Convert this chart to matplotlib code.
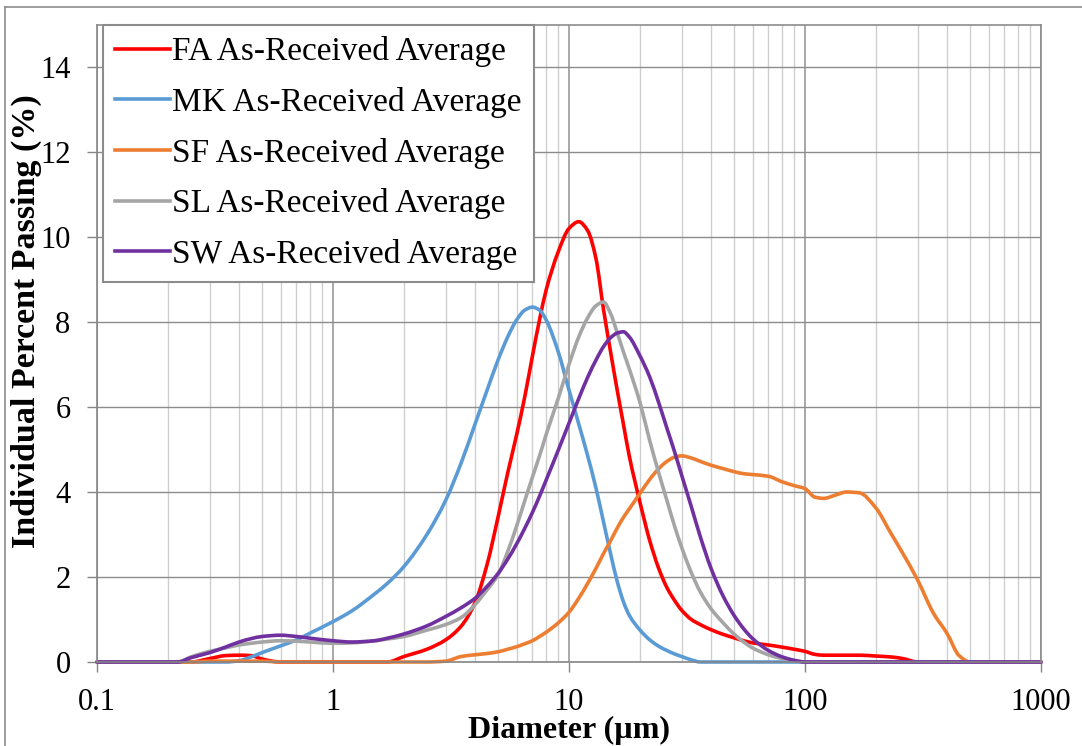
import matplotlib
matplotlib.use("Agg")
import numpy as np
import matplotlib.pyplot as plt
from matplotlib.path import Path
from matplotlib.patches import PathPatch
from matplotlib.lines import Line2D
from matplotlib.ticker import LogLocator, NullFormatter, FixedLocator, FixedFormatter

plt.rcParams['font.family'] = ['Liberation Serif', 'DejaVu Serif']

# particle diameters (um) shared by all size distributions
diam = [0.1, 0.2, 0.22, 0.25, 0.3, 0.35, 0.4, 0.45, 0.5, 0.6, 0.7, 0.8,
        1.0, 1.2, 1.5, 1.7, 2.0, 2.5, 3.0, 3.5, 4.0, 4.5, 5.0, 5.5, 6.0,
        6.5, 7.0, 7.5, 8.0, 9.0, 10, 11, 12, 13, 14, 15, 16, 17, 18, 20,
        22, 24, 26, 28, 30, 33, 36, 40, 45, 50, 55, 60, 70, 80, 90, 100,
        110, 120, 135, 150, 170, 200, 230, 260, 300, 350, 400, 450, 500,
        600, 1000]

fa = [0, 0, 0, 0, 0.08, 0.15, 0.16, 0.15, 0.07, 0, 0, 0,
      0, 0, 0, 0, 0.13, 0.3, 0.52, 0.85, 1.4, 2.3, 3.4, 4.45, 5.35,
      6.25, 7.2, 8.05, 8.75, 9.65, 10.2, 10.36, 10.15, 9.5, 8.3, 7.3, 6.4, 5.6, 4.85, 3.75,
      2.85, 2.2, 1.75, 1.45, 1.22, 1.0, 0.88, 0.76, 0.65, 0.57, 0.5, 0.45, 0.4, 0.35, 0.3, 0.25,
      0.18, 0.16, 0.16, 0.16, 0.16, 0.14, 0.12, 0.08, 0, 0, 0, 0, 0,
      0, 0]

mk = [0, 0, 0, 0, 0, 0, 0.03, 0.12, 0.22, 0.38, 0.52, 0.68,
      0.95, 1.2, 1.6, 1.85, 2.25, 3.0, 3.8, 4.7, 5.6, 6.4, 7.1, 7.65, 8.05,
      8.28, 8.35, 8.28, 8.05, 7.3, 6.4, 5.6, 4.85, 4.1, 3.3, 2.55, 1.9, 1.42, 1.1, 0.75,
      0.52, 0.37, 0.27, 0.19, 0.13, 0.05, 0, 0, 0, 0, 0, 0, 0, 0, 0, 0,
      0, 0, 0, 0, 0, 0, 0, 0, 0, 0, 0, 0, 0,
      0, 0]

sf = [0, 0, 0, 0, 0.02, 0.02, 0.02, 0.02, 0.02, 0, 0, 0,
      0, 0, 0, 0, 0, 0, 0.02, 0.13, 0.17, 0.2, 0.24, 0.3, 0.36,
      0.43, 0.5, 0.6, 0.7, 0.92, 1.17, 1.5, 1.85, 2.2, 2.55, 2.85, 3.15, 3.4, 3.6, 3.97,
      4.3, 4.55, 4.72, 4.82, 4.85, 4.8, 4.72, 4.63, 4.55, 4.48, 4.43, 4.41, 4.37, 4.24, 4.15, 4.08,
      3.88, 3.85, 3.93, 4.0, 3.98, 3.62, 3.05, 2.55, 1.93, 1.15, 0.67, 0.15, 0,
      0, 0]

sl = [0, 0, 0, 0.12, 0.25, 0.33, 0.4, 0.44, 0.47, 0.5, 0.49, 0.47,
      0.44, 0.45, 0.5, 0.54, 0.6, 0.75, 0.88, 1.05, 1.35, 1.7, 2.05, 2.6, 3.2,
      3.8, 4.35, 4.85, 5.35, 6.2, 7.0, 7.65, 8.1, 8.38, 8.47, 8.2, 7.75, 7.3, 6.9, 6.1,
      5.2, 4.45, 3.8, 3.2, 2.7, 2.1, 1.65, 1.25, 0.92, 0.66, 0.47, 0.33, 0.17, 0.08, 0.025, 0,
      0, 0, 0, 0, 0, 0, 0, 0, 0, 0, 0, 0, 0,
      0, 0]

sw = [0, 0, 0, 0.1, 0.22, 0.35, 0.47, 0.55, 0.6, 0.63, 0.6, 0.56,
      0.5, 0.47, 0.5, 0.56, 0.66, 0.85, 1.07, 1.28, 1.5, 1.78, 2.08, 2.42, 2.78,
      3.15, 3.52, 3.9, 4.28, 4.98, 5.62, 6.2, 6.7, 7.1, 7.42, 7.63, 7.74, 7.77, 7.65, 7.2,
      6.7, 6.1, 5.5, 4.95, 4.4, 3.65, 2.95, 2.2, 1.55, 1.1, 0.78, 0.55, 0.27, 0.12, 0.04, 0,
      0, 0, 0, 0, 0, 0, 0, 0, 0, 0, 0, 0, 0,
      0, 0]

labels = ["FA As-Received Average", "MK As-Received Average",
          "SF As-Received Average", "SL As-Received Average",
          "SW As-Received Average"]
colors = ["#FF0000", "#5B9BD5", "#ED7D31", "#A5A5A5", "#7030A0"]


def smooth_path(xs, ys):
    # smoothed line: cubic bezier segments (monotone hermite) in log-x space
    lx = np.log10(np.asarray(xs, float))
    y = np.asarray(ys, float)
    h = np.diff(lx)
    d = np.diff(y) / h
    m = np.zeros_like(y)
    for i in range(1, len(y) - 1):
        if d[i - 1] * d[i] > 0:
            w1 = 2 * h[i] + h[i - 1]
            w2 = h[i] + 2 * h[i - 1]
            m[i] = (w1 + w2) / (w1 / d[i - 1] + w2 / d[i])
    verts = [(lx[0], y[0])]
    codes = [Path.MOVETO]
    for i in range(len(y) - 1):
        verts += [(lx[i] + h[i] / 3, y[i] + m[i] * h[i] / 3),
                  (lx[i + 1] - h[i] / 3, y[i + 1] - m[i + 1] * h[i] / 3),
                  (lx[i + 1], y[i + 1])]
        codes += [Path.CURVE4] * 3
    verts = np.array(verts)
    verts[:, 0] = 10 ** verts[:, 0]
    return Path(verts, codes)


fig = plt.figure(figsize=(10.82, 7.46), dpi=100)
ax = fig.add_axes([97 / 1082, 1 - 662 / 746, (1041 - 97) / 1082, (662 - 24.5) / 746])

ax.set_xscale('log')
ax.set_xlim(0.1, 1000)
ax.set_ylim(0, 15)

handles = []
for ys, lab, c in zip([fa, mk, sf, sl, sw], labels, colors):
    patch = PathPatch(smooth_path(diam, ys), facecolor='none', edgecolor=c,
                      lw=2.6, capstyle='round', joinstyle='round', clip_on=False)
    ax.add_patch(patch)
    handles.append(Line2D([], [], color=c, lw=2.6, label=lab))

ax.xaxis.set_major_locator(FixedLocator([0.1, 1, 10, 100, 1000]))
ax.xaxis.set_major_formatter(FixedFormatter(["0.1", "1", "10", "100", "1000"]))
ax.xaxis.set_minor_locator(LogLocator(base=10, subs=range(2, 10), numticks=20))
ax.xaxis.set_minor_formatter(NullFormatter())
ax.set_yticks(range(0, 15, 2))

ax.grid(True, which='major', axis='y', color='#8c8c8c', lw=1.0)
ax.grid(True, which='major', axis='x', color='#9a9a9a', lw=1.2)
ax.grid(True, which='minor', axis='x', color='#cfcfcf', lw=1.0)
ax.set_axisbelow(True)

for side in ['top', 'right']:
    ax.spines[side].set_color('#8c8c8c')
    ax.spines[side].set_linewidth(1.2)
for side in ['left', 'bottom']:
    ax.spines[side].set_color('#868686')
    ax.spines[side].set_linewidth(1.2)

ax.tick_params(axis='both', which='major', labelsize=22, length=7, width=1,
               color='#868686', pad=12)
ax.tick_params(axis='x', which='minor', length=0)

ax.set_xlabel("Diameter (µm)", fontsize=23, fontweight='bold')
ax.xaxis.set_label_coords(0.5, -0.084)
ax.set_ylabel("Individual Percent Passing (%)", fontsize=24.5, fontweight='bold')
ax.yaxis.set_label_coords(-0.058, 0.535)

leg = ax.legend(handles=handles, loc='upper left', bbox_to_anchor=(0.0064, 1.0),
                fontsize=24, frameon=True, fancybox=False, edgecolor='#8c8c8c',
                framealpha=1, handlelength=1.65, handletextpad=0.08,
                labelspacing=0.59, borderpad=0.35, borderaxespad=0)
leg.get_frame().set_linewidth(1.5)

# outer border of the chart area
fig.add_artist(Line2D([5 / 1082, 5 / 1082], [0, 1 - 7 / 746], color='#8c8c8c', lw=1.2))
fig.add_artist(Line2D([5 / 1082, 1], [1 - 7 / 746, 1 - 7 / 746], color='#8c8c8c', lw=1.2))

fig.savefig('out.png', dpi=100)
